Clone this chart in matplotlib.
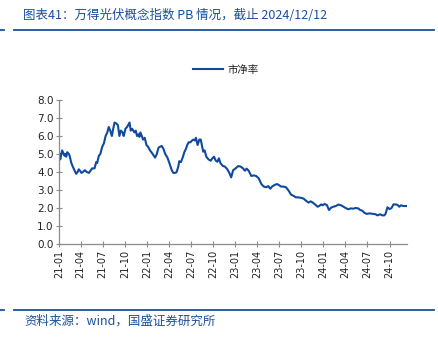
import matplotlib
matplotlib.use("Agg")
import matplotlib.pyplot as plt
import matplotlib.dates as mdates
from matplotlib.lines import Line2D
import pandas as pd

plt.rcParams['font.family'] = ['Noto Sans CJK SC', 'DejaVu Sans']

# 万得光伏概念指数 市净率(PB)
dates = [
    "2021-01-04", "2021-01-06", "2021-01-14", "2021-01-24", "2021-01-28", "2021-01-31",
    "2021-02-04", "2021-02-11", "2021-02-14", "2021-02-21", "2021-02-27", "2021-03-06",
    "2021-03-13", "2021-03-19", "2021-03-24", "2021-03-30", "2021-04-04", "2021-04-10",
    "2021-04-18", "2021-04-26", "2021-05-05", "2021-05-13", "2021-05-18", "2021-05-28",
    "2021-06-04", "2021-06-08", "2021-06-15", "2021-06-21", "2021-06-29", "2021-07-06",
    "2021-07-13", "2021-07-20", "2021-07-26", "2021-08-01", "2021-08-08", "2021-08-12",
    "2021-08-19", "2021-08-26", "2021-09-02", "2021-09-08", "2021-09-14", "2021-09-21",
    "2021-09-26", "2021-10-03", "2021-10-10", "2021-10-20", "2021-10-25", "2021-10-31",
    "2021-11-09", "2021-11-15", "2021-11-20", "2021-11-27", "2021-11-30", "2021-12-04",
    "2021-12-10", "2021-12-15", "2021-12-22", "2021-12-29", "2022-01-05", "2022-01-13",
    "2022-01-24", "2022-02-03", "2022-02-10", "2022-02-17", "2022-02-23", "2022-03-02",
    "2022-03-09", "2022-03-17", "2022-03-26", "2022-04-03", "2022-04-13", "2022-04-19",
    "2022-04-28", "2022-05-03", "2022-05-10", "2022-05-14", "2022-05-21", "2022-05-28",
    "2022-06-04", "2022-06-11", "2022-06-16", "2022-06-22", "2022-06-29", "2022-07-06",
    "2022-07-11", "2022-07-18", "2022-07-22", "2022-07-29", "2022-08-05", "2022-08-11",
    "2022-08-21", "2022-08-27", "2022-09-03", "2022-09-12", "2022-09-21", "2022-09-28",
    "2022-10-05", "2022-10-12", "2022-10-19", "2022-10-25", "2022-11-01", "2022-11-11",
    "2022-11-19", "2022-11-29", "2022-12-08", "2022-12-15", "2022-12-23", "2023-01-02",
    "2023-01-13", "2023-01-23", "2023-02-02", "2023-02-10", "2023-02-17", "2023-02-26",
    "2023-03-08", "2023-03-19", "2023-03-28", "2023-04-08", "2023-04-19", "2023-04-29",
    "2023-05-09", "2023-05-17", "2023-05-26", "2023-06-02", "2023-06-13", "2023-06-23",
    "2023-06-30", "2023-07-09", "2023-07-20", "2023-07-30", "2023-08-10", "2023-08-20",
    "2023-08-31", "2023-09-09", "2023-09-20", "2023-10-01", "2023-10-11", "2023-10-20",
    "2023-11-01", "2023-11-09", "2023-11-18", "2023-11-28", "2023-12-08", "2023-12-14",
    "2023-12-23", "2023-12-28", "2024-01-05", "2024-01-15", "2024-01-24", "2024-02-02",
    "2024-02-11", "2024-02-21", "2024-03-03", "2024-03-14", "2024-03-24", "2024-04-02",
    "2024-04-13", "2024-04-24", "2024-05-03", "2024-05-13", "2024-05-24", "2024-06-01",
    "2024-06-10", "2024-06-18", "2024-06-28", "2024-07-07", "2024-07-16", "2024-07-25",
    "2024-08-04", "2024-08-12", "2024-08-22", "2024-09-01", "2024-09-09", "2024-09-14",
    "2024-09-22", "2024-10-01", "2024-10-09", "2024-10-17", "2024-10-26", "2024-11-03",
    "2024-11-10", "2024-11-17", "2024-11-27", "2024-12-12",
]
pb = [
    5.0, 4.7, 5.2, 4.9, 5.0, 4.85,
    5.1, 5.0, 4.9, 4.5, 4.3, 4.1,
    3.9, 4.0, 4.15, 4.05, 3.95, 4.0,
    4.1, 4.0, 3.95, 4.1, 4.2, 4.2,
    4.55, 4.5, 4.9, 5.0, 5.4, 5.6,
    6.0, 6.2, 6.5, 6.3, 6.0, 6.3,
    6.75, 6.7, 6.6, 6.0, 6.3, 6.2,
    6.0, 6.4, 6.5, 6.75, 6.3, 6.4,
    6.2, 6.3, 6.0, 6.1, 5.95, 6.2,
    6.0, 5.8, 5.9, 5.5, 5.4, 5.2,
    5.0, 4.8, 5.0, 5.35, 5.4, 5.45,
    5.3, 5.0, 4.8, 4.5, 4.1, 3.95,
    3.95, 4.0, 4.3, 4.6, 4.55, 4.8,
    5.1, 5.3, 5.5, 5.65, 5.65, 5.75,
    5.8, 5.75, 5.9, 5.5, 5.8, 5.8,
    5.13, 5.2, 4.85, 4.7, 4.63, 4.76,
    4.85, 4.63, 4.57, 4.76, 4.48, 4.33,
    4.3, 4.15, 3.93, 3.7, 4.1, 4.2,
    4.33, 4.3, 4.2, 4.07, 4.19, 4.06,
    3.78, 3.81, 3.78, 3.65, 3.33, 3.19,
    3.15, 3.22, 3.07, 3.19, 3.28, 3.33,
    3.28, 3.19, 3.19, 3.15, 2.96, 2.74,
    2.67, 2.59, 2.59, 2.56, 2.52, 2.41,
    2.3, 2.37, 2.3, 2.19, 2.07, 2.11,
    2.2, 2.15, 2.22, 2.17, 1.89, 2.02,
    2.07, 2.11, 2.19, 2.15, 2.07, 2.0,
    1.93, 1.98, 1.96, 2.0, 1.98, 1.89,
    1.85, 1.74, 1.67, 1.7, 1.69, 1.67,
    1.65, 1.59, 1.65, 1.59, 1.59, 1.67,
    2.04, 1.94, 2.0, 2.2, 2.2, 2.17,
    2.07, 2.15, 2.11, 2.11,
]
yticks = [0.0, 1.0, 2.0, 3.0, 4.0, 5.0, 6.0, 7.0, 8.0]

title = "图表41：万得光伏概念指数 PB 情况，截止 2024/12/12"
source = "资料来源：wind，国盛证券研究所"
blue = "#1a4f9c"

x = pd.to_datetime(dates)

fig = plt.figure(figsize=(4.39, 3.44), dpi=100)
ax = fig.add_axes([0.1344, 0.2907, 0.7927, 0.4186])

ax.plot(x, pb, color="#0f4a9e", lw=1.5, label="市净率")

ax.set_ylim(0, 8)
ax.set_yticks(yticks)
ax.yaxis.set_major_formatter(plt.FormatStrFormatter("%.1f"))
ax.set_xlim(pd.Timestamp("2021-01-01"), pd.Timestamp("2024-12-12"))
ax.xaxis.set_major_locator(mdates.MonthLocator(bymonth=[1, 4, 7, 10]))
ax.xaxis.set_major_formatter(mdates.DateFormatter("%y-%m"))

for s in ["top", "right"]:
    ax.spines[s].set_visible(False)
for s in ["left", "bottom"]:
    ax.spines[s].set_color("#8c8c8c")
    ax.spines[s].set_linewidth(0.9)
ax.tick_params(axis="both", direction="inout", length=4, width=0.8, color="#8c8c8c",
               labelsize=7.5, labelcolor="#222222", pad=2)
ax.tick_params(axis="x", labelrotation=90, labelsize=7)
for lab in ax.get_xticklabels() + ax.get_yticklabels():
    lab.set_family("DejaVu Sans")

leg = fig.legend(loc="center", bbox_to_anchor=(0.515, 1 - 69.5 / 344), frameon=False,
                 fontsize=7.5, handlelength=2.8, handletextpad=0.5)
for t in leg.get_texts():
    t.set_color("#222222")

# title and rules
fig.text(23 / 439, 1 - 15 / 344, title, fontsize=9, style="italic", color=blue,
         ha="left", va="center")
fig.add_artist(Line2D([0, 4 / 439], [1 - 29.5 / 344] * 2, color=blue, lw=1.3))
fig.add_artist(Line2D([14 / 439, 434 / 439], [1 - 29.5 / 344] * 2, color=blue, lw=1.3))
fig.add_artist(Line2D([0, 4 / 439], [1 - 310 / 344] * 2, color=blue, lw=1.3))
fig.add_artist(Line2D([14 / 439, 434 / 439], [1 - 310 / 344] * 2, color=blue, lw=1.3))
fig.text(24 / 439, 1 - 321 / 344, source, fontsize=9, style="italic", color=blue,
         ha="left", va="center")

fig.savefig("out.png", dpi=100)
